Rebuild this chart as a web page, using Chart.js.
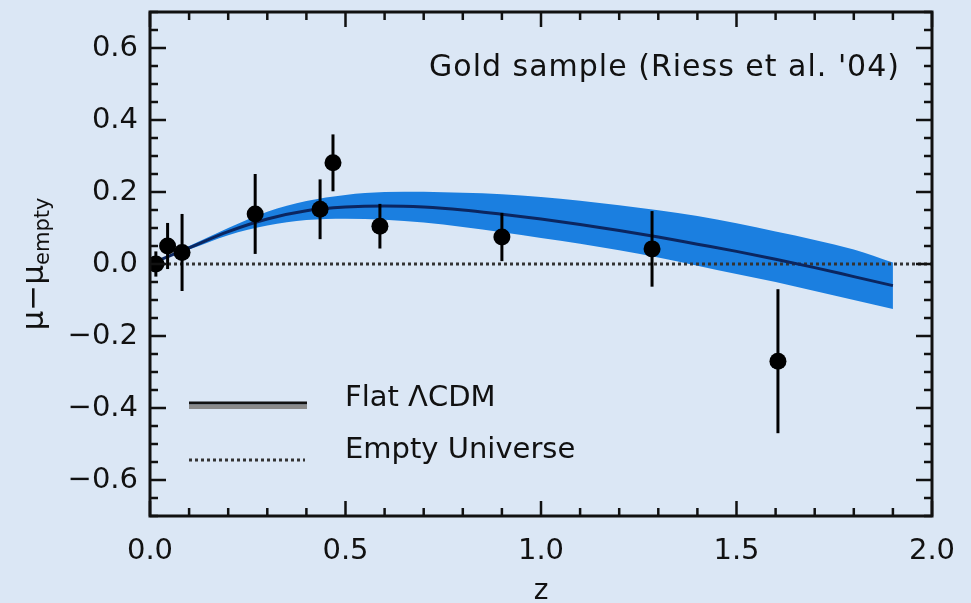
<!DOCTYPE html>
<html>
<head>
<meta charset="utf-8">
<script src="https://cdn.jsdelivr.net/npm/chart.js@4.4.1/dist/chart.umd.min.js"></script>
<style>
  html, body { margin: 0; padding: 0; background: #dbe7f5; }
  canvas { display: block; }
</style>
</head>
<body>
<canvas id="c" width="971" height="603"></canvas>
<script>
// ---- Data ----
const snZ     = [0.015, 0.045, 0.082, 0.269, 0.435, 0.468, 0.588, 0.900, 1.284, 1.606];
const snDmu   = [0.000, 0.050, 0.032, 0.139, 0.152, 0.281, 0.105, 0.075, 0.042, -0.270];
const snErr   = [0.035, 0.064, 0.107, 0.111, 0.083, 0.079, 0.062, 0.067, 0.105, 0.200];

const modelZ     = [0, 0.1, 0.2, 0.3, 0.4, 0.5, 0.6, 0.7, 0.8, 0.9, 1.0, 1.1, 1.2, 1.3, 1.4, 1.5, 1.6, 1.7, 1.8, 1.9];
const modelMu    = [0, 0.045, 0.090, 0.125, 0.148, 0.158, 0.161, 0.158, 0.150, 0.138, 0.125, 0.110, 0.093, 0.075, 0.055, 0.035, 0.013, -0.010, -0.035, -0.060];
const bandUpper  = [0, 0.050, 0.100, 0.145, 0.175, 0.192, 0.200, 0.201, 0.198, 0.194, 0.186, 0.176, 0.163, 0.149, 0.133, 0.113, 0.090, 0.067, 0.040, 0.004];
const bandLower  = [0, 0.040, 0.080, 0.107, 0.122, 0.126, 0.123, 0.115, 0.103, 0.088, 0.072, 0.056, 0.038, 0.018, -0.005, -0.028, -0.050, -0.075, -0.100, -0.125];

const emptyZ  = [0, 2];
const emptyMu = [0, 0];

const xTickVals = [0, 0.5, 1.0, 1.5, 2.0];
const yTickVals = [-0.6, -0.4, -0.2, 0.0, 0.2, 0.4, 0.6];

const annotationText = "Gold sample (Riess et al. '04)";
const legendLabels = ["Flat \u039BCDM", "Empty Universe"];
const xTitle = "z";

// ---- helpers ----
const pts = (xs, ys) => xs.map((x, i) => ({ x: x, y: ys[i] }));
const textColor = '#111';
const fmt = v => (v < 0 ? '\u2212' : '') + Math.abs(v).toFixed(1);

const decorPlugin = {
  id: 'decor',
  afterDatasetsDraw(chart) {
    const ctx = chart.ctx;
    const xs = chart.scales.x, ys = chart.scales.y;
    // error bars
    ctx.save();
    ctx.strokeStyle = '#000';
    ctx.lineWidth = 3;
    snZ.forEach((z, i) => {
      const px = xs.getPixelForValue(z);
      ctx.beginPath();
      ctx.moveTo(px, ys.getPixelForValue(snDmu[i] + snErr[i]));
      ctx.lineTo(px, ys.getPixelForValue(snDmu[i] - snErr[i]));
      ctx.stroke();
    });
    ctx.restore();
  },
  afterDraw(chart) {
    const ctx = chart.ctx;
    const a = chart.chartArea;
    const xs = chart.scales.x, ys = chart.scales.y;
    ctx.save();
    // frame
    ctx.strokeStyle = '#111';
    ctx.lineWidth = 3;
    ctx.strokeRect(a.left, a.top, a.right - a.left, a.bottom - a.top);
    // ticks
    ctx.lineWidth = 2.5;
    ctx.beginPath();
    for (let k = 0; k <= 20; k++) {
      const v = k / 10;
      const px = xs.getPixelForValue(v);
      const len = (k % 5 === 0) ? 15 : 8;
      ctx.moveTo(px, a.bottom); ctx.lineTo(px, a.bottom - len);
      ctx.moveTo(px, a.top); ctx.lineTo(px, a.top + len);
    }
    for (let k = -14; k <= 14; k++) {
      const v = k * 0.05;
      const py = ys.getPixelForValue(v);
      const len = (k % 4 === 0) ? 16 : 8;
      ctx.moveTo(a.left, py); ctx.lineTo(a.left + len, py);
      ctx.moveTo(a.right, py); ctx.lineTo(a.right - len, py);
    }
    ctx.stroke();

    // annotation
    ctx.fillStyle = textColor;
    ctx.font = '30px "DejaVu Sans"';
    ctx.letterSpacing = '1px';
    ctx.textAlign = 'right';
    ctx.textBaseline = 'middle';
    ctx.fillText(annotationText, a.right - 32, 68);

    // legend
    const lx0 = a.left + 39, lx1 = a.left + 157;
    ctx.strokeStyle = '#111';
    ctx.setLineDash([]);
    ctx.lineWidth = 3;
    ctx.beginPath(); ctx.moveTo(lx0, 403); ctx.lineTo(lx1, 403); ctx.stroke();
    ctx.strokeStyle = '#8a8a8a';
    ctx.lineWidth = 4;
    ctx.beginPath(); ctx.moveTo(lx0, 407); ctx.lineTo(lx1, 407); ctx.stroke();
    ctx.strokeStyle = '#333';
    ctx.lineWidth = 3;
    ctx.setLineDash([3, 3]);
    ctx.beginPath(); ctx.moveTo(lx0, 460); ctx.lineTo(lx1 - 2, 460); ctx.stroke();
    ctx.setLineDash([]);
    ctx.textAlign = 'left';
    ctx.letterSpacing = '0px';
    ctx.font = '29px "DejaVu Sans"';
    ctx.fillText(legendLabels[0], a.left + 195, 398);
    ctx.fillText(legendLabels[1], a.left + 195, 450);

    // x title
    ctx.textAlign = 'center';
    ctx.font = '28px "DejaVu Sans"';
    ctx.fillText(xTitle, (a.left + a.right) / 2, 592);

    // y title (rotated) mu - mu_empty
    ctx.translate(35, 264);
    ctx.rotate(-Math.PI / 2);
    ctx.textAlign = 'left';
    ctx.textBaseline = 'alphabetic';
    const mainTxt = '\u03BC\u2212\u03BC';
    const subTxt = 'empty';
    ctx.font = '31px "DejaVu Sans"';
    const w1 = ctx.measureText(mainTxt).width;
    ctx.font = '21px "DejaVu Sans"';
    const w2 = ctx.measureText(subTxt).width;
    const start = -(w1 + w2) / 2;
    ctx.font = '31px "DejaVu Sans"';
    ctx.fillText(mainTxt, start, 8);
    ctx.font = '21px "DejaVu Sans"';
    ctx.fillText(subTxt, start + w1, 14);
    ctx.restore();
  }
};

const tickFont = { family: '"DejaVu Sans"', size: 29 };

new Chart(document.getElementById('c'), {
  type: 'line',
  data: {
    datasets: [
      { // points
        type: 'scatter',
        data: pts(snZ, snDmu),
        showLine: false,
        pointRadius: 8.5,
        pointBackgroundColor: '#000',
        pointBorderColor: '#000',
        pointBorderWidth: 0,
        order: 0
      },
      { // flat LCDM line
        data: pts(modelZ, modelMu),
        borderColor: '#0b2660',
        borderWidth: 3,
        pointRadius: 0,
        tension: 0.4,
        cubicInterpolationMode: 'monotone',
        fill: false,
        order: 1
      },
      { // empty universe
        data: pts(emptyZ, emptyMu),
        borderColor: '#333',
        borderWidth: 3,
        borderDash: [3, 3],
        pointRadius: 0,
        fill: false,
        order: 2
      },
      { // band upper
        data: pts(modelZ, bandUpper),
        borderColor: 'rgba(0,0,0,0)',
        borderWidth: 0,
        pointRadius: 0,
        tension: 0.4,
        cubicInterpolationMode: 'monotone',
        backgroundColor: '#1b7fe0',
        fill: '+1',
        order: 3
      },
      { // band lower
        data: pts(modelZ, bandLower),
        borderColor: 'rgba(0,0,0,0)',
        borderWidth: 0,
        pointRadius: 0,
        tension: 0.4,
        cubicInterpolationMode: 'monotone',
        fill: false,
        order: 4
      }
    ]
  },
  options: {
    responsive: false,
    animation: false,
    layout: { padding: { top: 12, right: 39, left: 0, bottom: 0 } },
    plugins: { legend: { display: false }, tooltip: { enabled: false } },
    scales: {
      x: {
        type: 'linear', min: 0, max: 2,
        grid: { display: false, drawTicks: false },
        border: { display: false },
        afterBuildTicks: s => { s.ticks = xTickVals.map(v => ({ value: v })); },
        afterFit: s => { s.height = 87; s.paddingLeft = 0; s.paddingRight = 0; },
        ticks: { font: tickFont, color: textColor, padding: 18, maxRotation: 0, callback: v => fmt(v) }
      },
      y: {
        type: 'linear', min: -0.7, max: 0.7,
        grid: { display: false, drawTicks: false },
        border: { display: false },
        afterBuildTicks: s => { s.ticks = yTickVals.map(v => ({ value: v })); },
        afterFit: s => { s.width = 150; s.paddingTop = 0; s.paddingBottom = 0; },
        ticks: { font: tickFont, color: textColor, padding: 12, callback: v => fmt(v) }
      }
    }
  },
  plugins: [decorPlugin]
});
</script>
</body>
</html>
